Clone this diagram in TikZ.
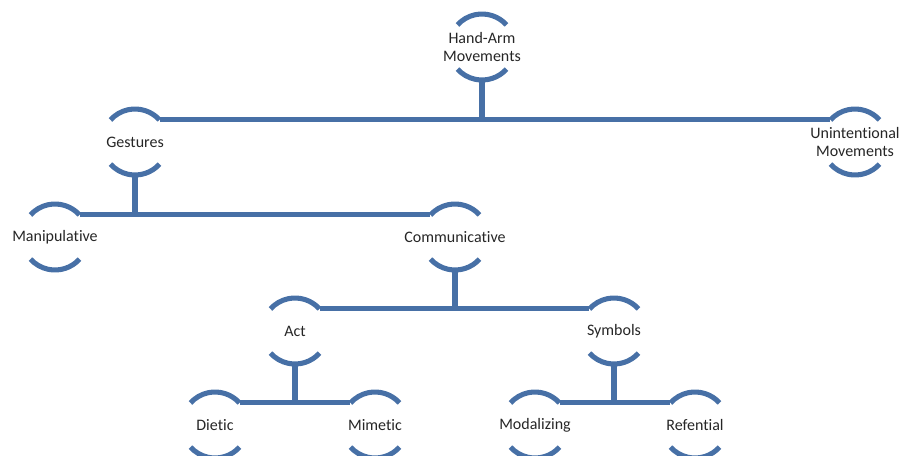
\documentclass[tikz,border=0pt]{standalone}
\usepackage{fontspec}
\setmainfont{Carlito}[Ligatures=NoCommon]
\definecolor{armblue}{RGB}{71,112,166}
\tikzset{
  lbl/.style     = {font=\fontsize{12}{13.6}\selectfont, text=black!85,
                    align=center, inner sep=0pt},
  rim/.style     = {armblue, line width=3.8pt},
  link/.style    = {armblue, line width=3.8pt},
}

\begin{document}
\begin{tikzpicture}[x=0.75pt, y=0.75pt]
  \useasboundingbox (0,0) rectangle (900,-455);

  % labels
  \node[lbl] (hand)  at (482,-47)  {Hand-Arm\\Movements};
  \node[lbl] (gest)  at (135,-142) {Gestures};
  \node[lbl] (unint) at (855,-142) {Unintentional\\Movements};
  \node[lbl] (manip) at (55,-237)  {Manipulative};
  \node[lbl] (comm)  at (455,-237) {Communicative};
  \node[lbl] (act)   at (295,-331) {Act};
  \node[lbl] (symb)  at (614,-331) {Symbols};
  \node[lbl] (diet)  at (215,-425) {Dietic};
  \node[lbl] (mim)   at (375,-425) {Mimetic};
  \node[lbl] (modal) at (535,-425) {Modalizing};
  \node[lbl] (refe)  at (695,-425) {Refential};

  % open circles round each label
  \foreach \n in {hand,gest,unint,manip,comm,act,symb,diet,mim,modal,refe} {
    \path (\n.center) +(42:33) coordinate (\n-ne)
                      +(138:33) coordinate (\n-nw)
                      +(-90:33) coordinate (\n-bot);
    \draw[rim] (\n.center) ++(42:33) arc (42:138:33);
    \draw[rim] (\n.center) ++(-42:33) arc (-42:-138:33);
  }

  % tree links
  \draw[link] (hand-bot) -- (hand-bot |- gest-ne);
  \draw[link] (gest-ne) -- (unint-nw);
  \draw[link] (gest-bot) -- (gest-bot |- manip-ne);
  \draw[link] (manip-ne) -- (comm-nw);
  \draw[link] (comm-bot) -- (comm-bot |- act-ne);
  \draw[link] (act-ne) -- (symb-nw);
  \draw[link] (act-bot) -- (act-bot |- diet-ne);
  \draw[link] (diet-ne) -- (mim-nw);
  \draw[link] (symb-bot) -- (symb-bot |- modal-ne);
  \draw[link] (modal-ne) -- (refe-nw);
\end{tikzpicture}
\end{document}
